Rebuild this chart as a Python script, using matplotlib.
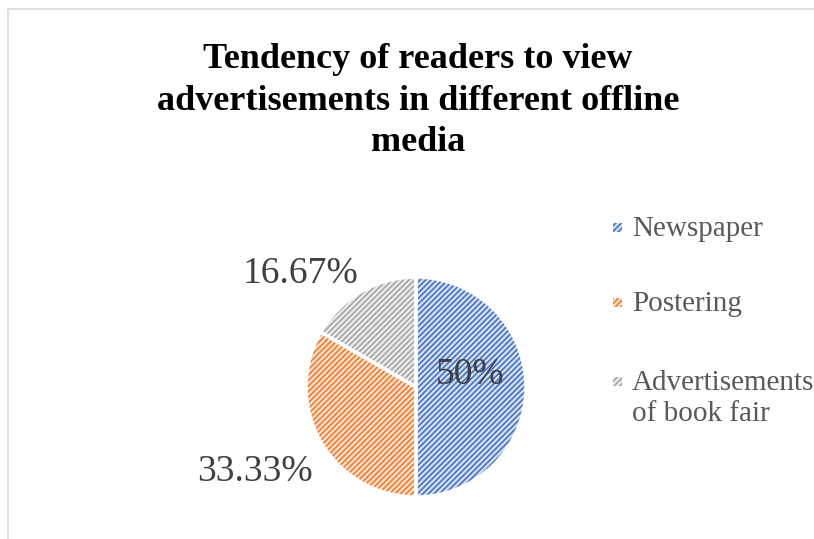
import matplotlib.pyplot as plt
from matplotlib.patches import Rectangle
from matplotlib.lines import Line2D

# share of readers by offline medium (%)
media = ['Newspaper', 'Postering', 'Advertisements\nof book fair']
shares = [50, 33.33, 16.67]
line_colors = ['#4472c4', '#ed7d31', '#a5a5a5']
fill_colors = ['#d6e0f2', '#fbe0cc', '#ececec']

title = 'Tendency of readers to view\nadvertisements in different offline\nmedia'

W, H = 814, 539
plt.rcParams['font.family'] = ['Liberation Serif', 'DejaVu Serif']
plt.rcParams['hatch.linewidth'] = 1.2

fig = plt.figure(figsize=(W / 100, H / 100), dpi=100)


def px(x, y):
    # pixel position (from top-left) -> figure fraction
    return x / W, 1 - y / H


# chart frame
fig.add_artist(Line2D([8 / W, 8 / W], [0, 1 - 9 / H], color='#d9d9d9', lw=1.2,
                      transform=fig.transFigure))
fig.add_artist(Line2D([8 / W, 1], [1 - 9 / H, 1 - 9 / H], color='#d9d9d9', lw=1.2,
                      transform=fig.transFigure))

fig.text(*px(418, 101), title, ha='center', va='center', fontsize=26,
         fontweight='bold', color='black', linespacing=1.35)

cx, cy, r = 416, 387, 110
ax = fig.add_axes([(cx - r) / W, (H - cy - r) / H, 2 * r / W, 2 * r / H])

# hatched fill first, then white separators on top
wedges, _ = ax.pie(shares, colors=fill_colors, startangle=90, counterclock=False,
                   radius=1, wedgeprops=dict(linewidth=0))
for w, c in zip(wedges, line_colors):
    w.set_hatch('//////')
    w.set_edgecolor(c)
ax.pie(shares, colors=['none'] * 3, startangle=90, counterclock=False, radius=1,
       wedgeprops=dict(edgecolor='white', linewidth=2.5))
ax.set_xlim(-1, 1)
ax.set_ylim(-1, 1)
ax.set_aspect('equal')
ax.axis('off')


def fmt(v):
    return '{:g}%'.format(round(v, 2))


label_pos = [(0.49, 0.11), (-1.46, -0.77), (-1.05, 1.03)]
for v, (lx, ly) in zip(shares, label_pos):
    ax.text(lx, ly, fmt(v), ha='center', va='center', fontsize=27,
            color='#404040', clip_on=False)

# legend
leg_y = [227, 302, 381]
for name, fc, lc, y in zip(media, fill_colors, line_colors, leg_y):
    x0, y0 = px(613, y + 4.5)
    fig.add_artist(Rectangle((x0, y0), 9 / W, 9 / H, transform=fig.transFigure,
                             facecolor=fc, edgecolor=lc, hatch='//////', linewidth=0))
    for i, part in enumerate(name.split('\n')):
        fig.text(*px(632, y + 9 + i * 31), part, ha='left', va='baseline',
                 fontsize=21, color='#595959')

fig.savefig('out.png', dpi=100)
